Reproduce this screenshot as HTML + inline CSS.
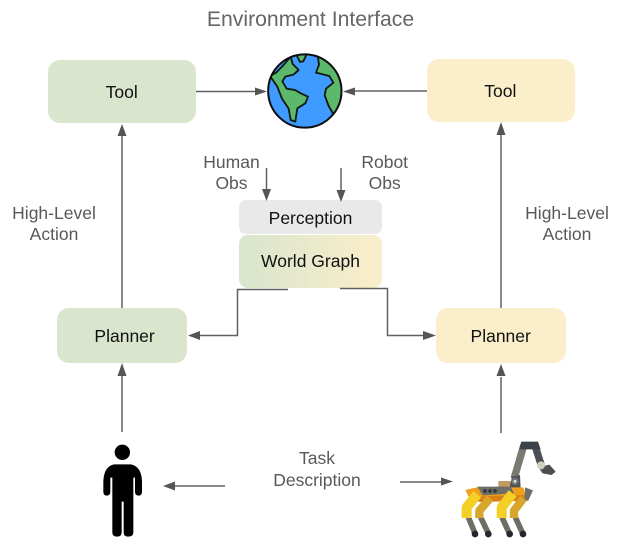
<!DOCTYPE html>
<html>
<head>
<meta charset="utf-8">
<style>
html,body{margin:0;padding:0;background:#fff}
svg{display:block}
text{font-family:"Liberation Sans",Arial,sans-serif;font-size:17.5px;text-anchor:middle}
.k{fill:#111}
.g{fill:#595959}
.c{stroke:#606060;stroke-width:1.5;fill:none}
.a{fill:#555;stroke:none}
</style>
</head>
<body>
<svg width="621" height="542" viewBox="0 0 621 542" xmlns="http://www.w3.org/2000/svg">
<defs>
<linearGradient id="wg" x1="0" x2="1" y1="0" y2="0">
<stop offset="0" stop-color="#d9e5cd"/>
<stop offset="1" stop-color="#faeeca"/>
</linearGradient>
<clipPath id="gc"><circle cx="164.500" cy="153" r="110"/></clipPath>
</defs>
<rect width="621" height="542" fill="#fff"/>

<text x="310.5" y="26" style="font-size:21.2px" fill="#666">Environment Interface</text>

<!-- Boxes -->
<rect x="48" y="60" width="148" height="63" rx="12" fill="#d9e5cd"/>
<rect x="427" y="59" width="148" height="63" rx="12" fill="#fbeeca"/>
<rect x="57" y="308" width="130" height="55" rx="12" fill="#d9e5cd"/>
<rect x="436" y="308" width="130" height="55" rx="12" fill="#fbeeca"/>
<rect x="239" y="200" width="143" height="34" rx="7" fill="#e9e9e9"/>
<rect x="239" y="235" width="143" height="53" rx="9" fill="url(#wg)"/>

<text class="k" x="121.700" y="98">Tool</text>
<text class="k" x="500.300" y="97">Tool</text>
<text class="k" x="124.600" y="342">Planner</text>
<text class="k" x="500.700" y="342">Planner</text>
<text class="k" x="310.500" y="224">Perception</text>
<text class="k" x="310.500" y="267">World Graph</text>

<!-- Grey labels -->
<text class="g" x="231.500" y="168">Human</text>
<text class="g" x="231.500" y="189">Obs</text>
<text class="g" x="384.700" y="168">Robot</text>
<text class="g" x="384.700" y="189">Obs</text>
<text class="g" x="54" y="219">High-Level</text>
<text class="g" x="54" y="240">Action</text>
<text class="g" x="567" y="219">High-Level</text>
<text class="g" x="567" y="240">Action</text>
<text class="g" x="317" y="464">Task</text>
<text class="g" x="317" y="486">Description</text>

<!-- Connectors -->
<path class="c" d="M196 91.500H256"/>
<path class="a" d="M267 91.500L255 87.500V95.500Z"/>
<path class="c" d="M427 91H354"/>
<path class="a" d="M343 91.500L355 87.500V95.500Z"/>
<path class="c" d="M122 308V136"/>
<path class="a" d="M122 124L117.500 136H126.500Z"/>
<path class="c" d="M501 308V135"/>
<path class="a" d="M501 122L496.500 135H505.500Z"/>
<path class="c" d="M122 432V376"/>
<path class="a" d="M122 363L117.500 376H126.500Z"/>
<path class="c" d="M501 433V377"/>
<path class="a" d="M501 364L496.500 376H505.500Z"/>
<path class="c" d="M266.500 168V190"/>
<path class="a" d="M266.500 201L262 189H271Z"/>
<path class="c" d="M341 168V191"/>
<path class="a" d="M341 202L336.500 190H345.500Z"/>
<path class="c" d="M288 289.500H237.500V335.500H200"/>
<path class="a" d="M188 335.500L200 331V340Z"/>
<path class="c" d="M340 288.500H387.500V335.500H424"/>
<path class="a" d="M436 335.500L423 331V340Z"/>
<path class="c" d="M225 486H175"/>
<path class="a" d="M163 486L175 481.500V490.500Z"/>
<path class="c" d="M400 482H442"/>
<path class="a" d="M453 481.500L441 477.500V485.500Z"/>

<!-- Globe -->
<g transform="translate(250 40) scale(.33333)">
<circle cx="164.500" cy="153" r="110" fill="#3f9bff"/>
<g clip-path="url(#gc)" fill="#5cb96b" stroke="#101a10" stroke-width="5.500" stroke-linejoin="round">
<path d="M60 108L78 98L98 78L122 50L128 72L146 90L130 104L106 110L97 124L110 146L135 150L152 160L174 170L166 190L142 205L136 245L122 240L116 206L96 176L82 140Z"/>
<path d="M136 38H172L160 64L150 66Z"/>
<path d="M203 46L207 74L198 98L238 108L250 128L228 146L224 166L236 198L250 222L290 200V60L240 40Z"/>
</g>
<circle cx="164.500" cy="153" r="110" fill="none" stroke="#0d0d10" stroke-width="6"/>
</g>

<!-- Person -->
<g transform="translate(90 435) scale(.33333)" fill="#000">
<circle cx="97" cy="52" r="23"/>
<path d="M72 88H123Q155 95 156 140V170Q156 182 146 182Q135 182 135 170V128H130V292Q130 305 114 305Q101 305 101 292V200H95V292Q95 305 81 305Q67 305 67 292V128H61V170Q61 182 50 182Q40 182 40 170V140Q41 95 72 88Z"/>
</g>

<!-- Robot -->
<g transform="translate(440 430) scale(.33333)" fill="none">
<path d="M252 44L222 146" stroke="#7a7a72" stroke-width="22"/>
<path d="M284 44L304 106" stroke="#4b4f55" stroke-width="22"/>
<path d="M244 35H294L302 58H238Z" fill="#3c4249"/>
<path d="M295 112L328 104L347 125L335 135L308 130Z" fill="#4d4f50"/>
<circle cx="303" cy="106" r="12" fill="#cfcfc0"/>
<rect x="175" y="153" width="42" height="24" fill="#c29b66"/>
<path d="M208 176L216 140L240 135L242 176Z" fill="#4f5357"/>
<circle cx="225" cy="154" r="11" fill="#70757a"/>
<circle cx="225" cy="154" r="4.500" fill="#ddd"/>
<path d="M76 180L110 172L250 172L262 212L120 216L90 208Z" fill="#ef9f1c"/>
<path d="M90 200L260 195L262 212L120 216Z" fill="#d97f18"/>
<path d="M112 170H212L222 190L128 196Z" fill="#6e6e68"/>
<path d="M255 172L279 181L265 212H254Z" fill="#6f6f69"/>
<circle cx="135" cy="183" r="5.500" fill="#33363a"/>
<circle cx="150" cy="183" r="5.500" fill="#33363a"/>
<circle cx="165" cy="183" r="5.500" fill="#33363a"/>
<g fill="none" stroke="#6e6e66" stroke-width="17">
<path d="M85 262L105 310"/>
<path d="M122 262L145 310"/>
<path d="M186 262L208 310"/>
<path d="M226 262L248 310"/>
</g>
<g fill="none" stroke="#d8a62b" stroke-width="25" stroke-linejoin="round">
<path d="M150 205L118 242V264"/>
<path d="M250 205L222 242V264"/>
</g>
<g fill="none" stroke="#f4cf25" stroke-width="30" stroke-linejoin="round">
<path d="M112 192L80 232V264"/>
<path d="M218 190L185 232V264"/>
</g>
<circle cx="105" cy="312" r="10" fill="#23282e"/>
<circle cx="145" cy="312" r="10" fill="#23282e"/>
<circle cx="209" cy="312" r="10" fill="#23282e"/>
<circle cx="249" cy="312" r="10" fill="#23282e"/>
</g>
</svg>
</body>
</html>
